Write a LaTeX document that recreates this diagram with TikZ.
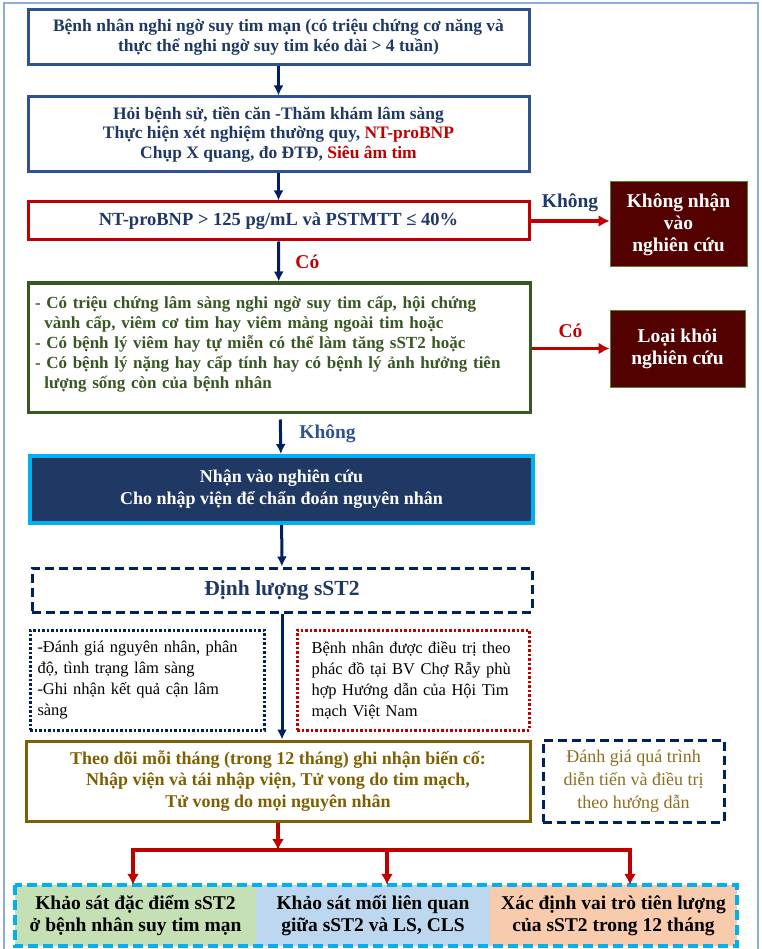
\documentclass[tikz,border=0pt]{standalone}
\usepackage{fontspec}
\setmainfont{Liberation Serif}
\usetikzlibrary{arrows.meta}

\definecolor{xanhdam}{RGB}{31,56,100}
\definecolor{xanhvien}{RGB}{47,82,143}
\definecolor{xanhnavy}{RGB}{0,32,96}
\definecolor{dodam}{RGB}{192,0,0}
\definecolor{nauden}{RGB}{82,0,0}
\definecolor{xanhla}{RGB}{56,87,35}
\definecolor{vienla}{RGB}{84,130,53}
\definecolor{xanhtroi}{RGB}{0,176,240}
\definecolor{nauvang}{RGB}{127,96,0}
\definecolor{vangnhat}{RGB}{140,110,30}
\definecolor{khung}{RGB}{143,170,220}
\definecolor{nenla}{RGB}{197,224,180}
\definecolor{nenlam}{RGB}{189,215,238}
\definecolor{nencam}{RGB}{248,203,173}

\newcommand{\dongdeu}[1]{\makebox[\hsize][s]{#1}}

\tikzset{
  hop/.style={draw, line width=3pt, align=center, inner sep=0pt},
  hopra/.style={fill=nauden, draw=vienla, line width=1pt, text=white, align=center,
    font=\fontsize{19.5}{22}\selectfont\bfseries},
  hopcham/.style={draw, line width=3pt, dash pattern=on 2.5pt off 2pt, inner sep=0pt,
    minimum height=100pt, font=\fontsize{16.5}{21}\selectfont, align=left},
  hopks/.style={minimum width=#1, minimum height=61pt, inner sep=0pt, align=center,
    font=\fontsize{19.5}{22}\selectfont\bfseries},
  muixanh/.style={-{Latex[length=10pt,width=10pt]}, line width=3pt, draw=xanhnavy},
  muido/.style={-{Latex[length=11pt,width=12pt]}, line width=3.5pt, draw=dodam},
  nhan/.style={font=\fontsize{19.5}{22}\selectfont\bfseries},
}

\begin{document}
\begin{tikzpicture}[x=1pt, y=-1pt]
    \useasboundingbox (0,0) rectangle (761,949);
    \draw[khung, line width=1.5pt] (4,955) -- (4,3) -- (758,3) -- (758,955);

    \node (benhnhan) at (278.5, 37.5) [hop, draw=xanhvien, text=xanhdam, minimum width=501pt, minimum height=55pt,
        font=\fontsize{17.5}{19.5}\selectfont\bfseries]
        {Bệnh nhân nghi ngờ suy tim mạn (có triệu chứng cơ năng và\\ thực thể nghi ngờ suy tim kéo dài > 4 tuần)};
    \node (khaibenh) at (278.5, 134.5) [hop, draw=xanhvien, text=xanhdam, minimum width=501pt, minimum height=75pt,
        font=\fontsize{17.5}{19.5}\selectfont\bfseries]
        {Hỏi bệnh sử, tiền căn -Thăm khám lâm sàng\\
         Thực hiện xét nghiệm thường quy, \textcolor{dodam}{NT-proBNP}\\
         Chụp X quang, đo ĐTĐ, \textcolor{dodam}{Siêu âm tim}};
    \node (tieuchuan) at (278.5, 221) [hop, draw=dodam, text=xanhdam, minimum width=501pt, minimum height=38pt,
        font=\fontsize{18.5}{21}\selectfont\bfseries]
        {NT-proBNP > 125 pg/mL và PSTMTT ≤ 40\%};
    \node (khongnhan) at (678.5, 224.5) [hopra, minimum width=137pt, minimum height=85pt]
        {Không nhận\\ vào\\ nghiên cứu};
    \node (loaitru) at (279, 347.5) [hop, draw=xanhla, text=xanhla, minimum width=502pt, minimum height=129pt,
        text width=488pt, align=left, font=\fontsize{17}{20}\selectfont\bfseries]
        {- Có triệu chứng lâm sàng nghi ngờ suy tim cấp, hội chứng\\
         \hspace*{0.55em}vành cấp, viêm cơ tim hay viêm màng ngoài tim hoặc\\
         - Có bệnh lý viêm hay tự miễn có thể làm tăng sST2 hoặc\\
         - Có bệnh lý nặng hay cấp tính hay có bệnh lý ảnh hưởng tiên\\
         \hspace*{0.55em}lượng sống còn của bệnh nhân\\[-10pt]\mbox{}};
    \node (loaikhoi) at (677.5, 348.5) [hopra, minimum width=135pt, minimum height=77pt]
        {Loại khỏi\\ nghiên cứu};
    \node (nhanvao) at (281.5, 489.5) [hop, draw=xanhtroi, line width=4pt, fill=xanhdam, text=white,
        minimum width=503pt, minimum height=67pt, font=\fontsize{18}{22}\selectfont\bfseries]
        {Nhận vào nghiên cứu\\ Cho nhập viện để chẩn đoán nguyên nhân};
    \node (dinhluong) at (282, 590) [hop, draw=xanhnavy, dash pattern=on 9pt off 5pt, text=xanhdam,
        minimum width=500pt, minimum height=44pt, font=\fontsize{21.5}{24}\selectfont\bfseries]
        {Định lượng sST2};
    \node (danhgia) at (147, 680) [hopcham, draw=xanhnavy, minimum width=234pt, text width=219pt]
        {\dongdeu{-Đánh giá nguyên nhân, phân}\\ độ, tình trạng lâm sàng\\
         \dongdeu{-Ghi nhận kết quả cận lâm}\\ sàng};
    \node (dieutri) at (413, 680) [hopcham, draw=dodam, minimum width=232pt, text width=203pt]
        {\dongdeu{Bệnh nhân được điều trị theo}\\ \dongdeu{phác đồ tại BV Chợ Rẫy phù}\\
         \dongdeu{hợp Hướng dẫn của Hội Tim}\\ mạch Việt Nam};
    \node (theodoi) at (278, 781) [hop, draw=nauvang, text=nauvang, minimum width=504pt, minimum height=80pt,
        font=\fontsize{18}{21.5}\selectfont\bfseries]
        {Theo dõi mỗi tháng (trong 12 tháng) ghi nhận biến cố:\\
         Nhập viện và tái nhập viện, Tử vong do tim mạch,\\
         Tử vong do mọi nguyên nhân};
    \node (quatrinh) at (633.5, 781) [hop, draw=xanhnavy, dash pattern=on 9pt off 5pt, text=vangnhat,
        minimum width=181pt, minimum height=82pt, font=\fontsize{18}{23}\selectfont]
        {Đánh giá quá trình\\ diễn tiến và điều trị\\ theo hướng dẫn};

    \node (ks1) at (135.5, 915.5) [hopks=241pt, fill=nenla] {Khảo sát đặc điểm sST2\\ ở bệnh nhân suy tim mạn};
    \node (ks2) at (373, 915.5) [hopks=234pt, fill=nenlam] {Khảo sát mối liên quan\\ giữa sST2 và LS, CLS};
    \node (ks3) at (613.5, 915.5) [hopks=247pt, fill=nencam] {Xác định vai trò tiên lượng\\ của sST2 trong 12 tháng};
    \draw[xanhtroi, line width=3.5pt, dash pattern=on 10pt off 5pt] (ks1.north west) rectangle (ks3.south east);

    \coordinate (nhanh) at (278, 850);
    \coordinate (nhanhtrai) at (133, 850);
    \coordinate (nhanhgiua) at (387, 850);
    \coordinate (nhanhphai) at (630, 850);

    \draw[muixanh] (benhnhan) -- (khaibenh);
    \draw[muixanh] (khaibenh) -- (tieuchuan);
    \draw[muixanh] (tieuchuan) -- node[midway, right=12pt, nhan, text=dodam] {Có} (loaitru);
    \draw[muido] (tieuchuan.east) -- node[midway, above=4pt, nhan, text=xanhdam] {Không} (tieuchuan.east -| khongnhan.west);
    \draw[muido] (loaitru.east |- loaikhoi) -- node[midway, above=6pt, nhan, text=dodam] {Có} (loaikhoi.west);
    \draw[muixanh, shorten <=6pt] (loaitru) -- node[midway, right=14pt, nhan, text=xanhvien] {Không} (nhanvao);
    \draw[muixanh] (nhanvao) -- (dinhluong);
    \draw[muixanh] (dinhluong.south) -- (dinhluong.south |- theodoi.north);
    \draw[muido] (theodoi.south) -- (nhanh);
    \draw[dodam, line width=3.5pt, line cap=rect] (nhanhtrai) -- (nhanhphai);
    \draw[muido] (nhanhtrai) -- (nhanhtrai |- ks1.north);
    \draw[muido] (nhanhgiua) -- (nhanhgiua |- ks2.north);
    \draw[muido] (nhanhphai) -- (nhanhphai |- ks3.north);
\end{tikzpicture}
\end{document}
